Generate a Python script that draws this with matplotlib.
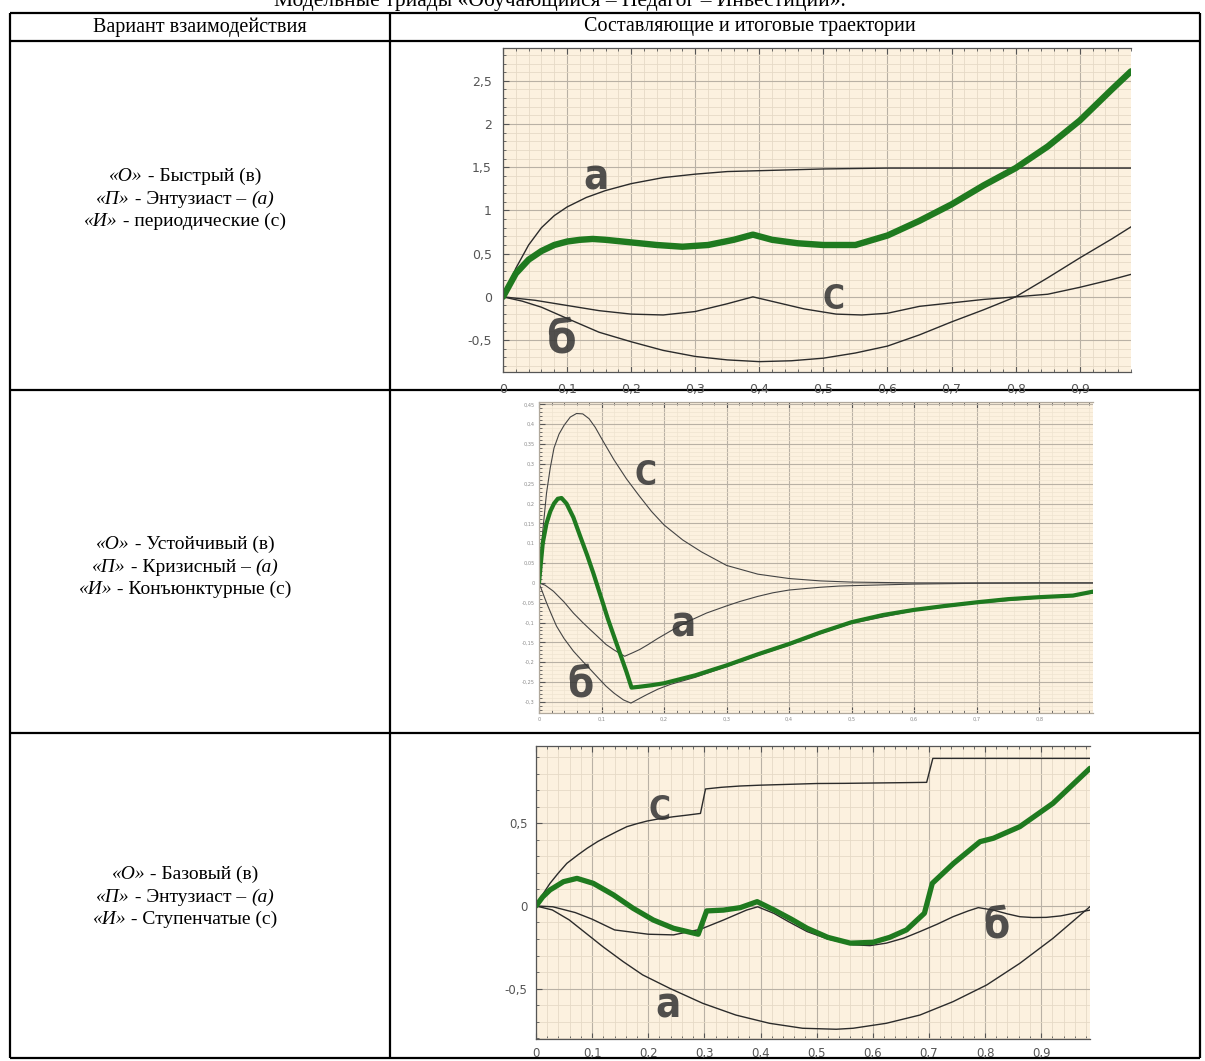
import matplotlib
matplotlib.use("Agg")
import matplotlib.pyplot as plt
from matplotlib.ticker import MultipleLocator, FuncFormatter

# ---- data: row 1 (Быстрый / Энтузиаст / периодические)
t1_a = [0, 0.02, 0.04, 0.06, 0.08, 0.1, 0.13, 0.16, 0.2, 0.25, 0.3, 0.35, 0.4, 0.5, 0.6, 0.7, 0.8, 0.9, 0.98]
a1 = [0, 0.33, 0.6, 0.8, 0.94, 1.04, 1.15, 1.23, 1.31, 1.38, 1.42, 1.45, 1.46, 1.48, 1.49, 1.49, 1.49, 1.49, 1.49]

t1_b = [0, 0.03, 0.06, 0.1, 0.15, 0.2, 0.25, 0.3, 0.35, 0.4, 0.45, 0.5, 0.55, 0.6, 0.65, 0.7, 0.75, 0.8, 0.85, 0.9, 0.95, 0.98]
b1 = [0, -0.05, -0.12, -0.25, -0.41, -0.52, -0.62, -0.69, -0.73, -0.75, -0.74, -0.71, -0.65, -0.57, -0.44, -0.29, -0.15, 0.0, 0.22, 0.45, 0.67, 0.81]

t1_c = [0, 0.05, 0.1, 0.15, 0.2, 0.25, 0.3, 0.35, 0.39, 0.43, 0.47, 0.52, 0.56, 0.6, 0.65, 0.7, 0.75, 0.8, 0.85, 0.9, 0.95, 0.98]
c1 = [0, -0.04, -0.10, -0.16, -0.20, -0.21, -0.17, -0.08, 0.0, -0.07, -0.14, -0.20, -0.21, -0.19, -0.11, -0.07, -0.03, 0.0, 0.03, 0.11, 0.20, 0.26]

t1_s = [0, 0.02, 0.04, 0.06, 0.08, 0.1, 0.12, 0.14, 0.16, 0.2, 0.24, 0.28, 0.32, 0.36, 0.39, 0.42, 0.46, 0.5, 0.55, 0.6, 0.65, 0.7, 0.75, 0.8, 0.85, 0.9, 0.95, 0.98]
s1 = [0, 0.27, 0.43, 0.53, 0.60, 0.64, 0.66, 0.67, 0.66, 0.63, 0.60, 0.58, 0.60, 0.66, 0.72, 0.66, 0.62, 0.60, 0.60, 0.71, 0.88, 1.07, 1.29, 1.49, 1.74, 2.04, 2.40, 2.61]

# ---- data: row 2 (Устойчивый / Кризисный / Конъюнктурные)
t2_a = [0, 0.01, 0.023, 0.04, 0.055, 0.07, 0.082, 0.095, 0.107, 0.12, 0.137, 0.15, 0.161, 0.175, 0.19, 0.214, 0.24, 0.268, 0.3, 0.321, 0.35, 0.374, 0.4, 0.428, 0.45, 0.48, 0.5, 0.55, 0.6, 0.7, 0.8, 0.886]
a2 = [0, -0.006, -0.021, -0.048, -0.076, -0.100, -0.118, -0.137, -0.155, -0.169, -0.185, -0.176, -0.168, -0.155, -0.140, -0.118, -0.096, -0.076, -0.058, -0.047, -0.034, -0.025, -0.018, -0.014, -0.011, -0.008, -0.007, -0.005, -0.003, -0.001, 0.0, 0.0]

t2_b = [0, 0.006, 0.012, 0.02, 0.028, 0.04, 0.055, 0.07, 0.082, 0.095, 0.107, 0.12, 0.135, 0.147, 0.16, 0.172, 0.19, 0.21, 0.25, 0.3, 0.35, 0.4, 0.45, 0.5, 0.6, 0.7, 0.8, 0.886]
b2 = [0, -0.025, -0.05, -0.08, -0.109, -0.14, -0.172, -0.198, -0.218, -0.24, -0.26, -0.278, -0.295, -0.303, -0.292, -0.282, -0.268, -0.256, -0.238, -0.211, -0.183, -0.157, -0.128, -0.102, -0.070, -0.051, -0.038, -0.026]

t2_c = [0, 0.006, 0.012, 0.018, 0.024, 0.032, 0.04, 0.05, 0.06, 0.07, 0.08, 0.09, 0.1, 0.12, 0.14, 0.16, 0.18, 0.2, 0.23, 0.26, 0.3, 0.35, 0.4, 0.45, 0.5, 0.6, 0.7, 0.8, 0.886]
c2 = [0, 0.13, 0.226, 0.29, 0.34, 0.375, 0.397, 0.418, 0.427, 0.426, 0.414, 0.392, 0.364, 0.31, 0.262, 0.22, 0.18, 0.146, 0.108, 0.078, 0.044, 0.022, 0.011, 0.005, 0.002, 0.0, 0.0, 0.0, 0.0]

t2_s = [0, 0.006, 0.012, 0.018, 0.024, 0.03, 0.036, 0.044, 0.055, 0.066, 0.077, 0.087, 0.1, 0.11, 0.12, 0.13, 0.14, 0.148, 0.16, 0.18, 0.2, 0.25, 0.3, 0.35, 0.4, 0.45, 0.5, 0.55, 0.6, 0.65, 0.7, 0.75, 0.8, 0.854, 0.886]
s2 = [0, 0.10, 0.15, 0.18, 0.20, 0.212, 0.214, 0.20, 0.165, 0.117, 0.07, 0.024, -0.04, -0.09, -0.135, -0.18, -0.225, -0.264, -0.262, -0.258, -0.253, -0.233, -0.208, -0.180, -0.154, -0.125, -0.099, -0.081, -0.068, -0.058, -0.049, -0.041, -0.036, -0.032, -0.022]

# ---- data: row 3 (Базовый / Энтузиаст / Ступенчатые)
t3_a = [0, 0.029, 0.059, 0.089, 0.119, 0.155, 0.19, 0.238, 0.297, 0.356, 0.416, 0.475, 0.535, 0.565, 0.624, 0.684, 0.743, 0.803, 0.862, 0.921, 0.987]
a3 = [0, -0.024, -0.084, -0.165, -0.246, -0.336, -0.417, -0.498, -0.589, -0.66, -0.71, -0.74, -0.746, -0.74, -0.71, -0.66, -0.579, -0.478, -0.347, -0.196, -0.004]

t3_b = [0, 0.03, 0.07, 0.1, 0.14, 0.2, 0.245, 0.293, 0.334, 0.375, 0.395, 0.424, 0.45, 0.483, 0.52, 0.565, 0.595, 0.624, 0.655, 0.684, 0.715, 0.743, 0.77, 0.788, 0.815, 0.84, 0.862, 0.885, 0.909, 0.935, 0.957, 0.987]
b3 = [0, -0.005, -0.04, -0.08, -0.145, -0.171, -0.175, -0.141, -0.085, -0.025, -0.005, -0.045, -0.095, -0.155, -0.2, -0.235, -0.24, -0.225, -0.195, -0.155, -0.11, -0.065, -0.03, -0.01, -0.025, -0.048, -0.065, -0.07, -0.069, -0.06, -0.045, -0.025]

t3_c = [0, 0.01, 0.025, 0.04, 0.055, 0.075, 0.091, 0.11, 0.126, 0.145, 0.162, 0.18, 0.198, 0.22, 0.245, 0.27, 0.293, 0.302, 0.33, 0.364, 0.4, 0.45, 0.5, 0.55, 0.6, 0.65, 0.696, 0.707, 0.75, 0.8, 0.9, 0.987]
c3 = [0, 0.06, 0.137, 0.2, 0.258, 0.31, 0.349, 0.39, 0.419, 0.452, 0.48, 0.498, 0.514, 0.528, 0.540, 0.55, 0.56, 0.708, 0.718, 0.726, 0.731, 0.736, 0.741, 0.742, 0.744, 0.746, 0.748, 0.893, 0.893, 0.893, 0.893, 0.893]

t3_s = [0, 0.012, 0.025, 0.049, 0.073, 0.102, 0.138, 0.173, 0.209, 0.245, 0.289, 0.304, 0.334, 0.364, 0.394, 0.424, 0.455, 0.483, 0.52, 0.56, 0.6, 0.63, 0.66, 0.692, 0.706, 0.744, 0.791, 0.815, 0.862, 0.921, 0.987]
s3 = [0, 0.055, 0.097, 0.147, 0.167, 0.137, 0.067, -0.014, -0.085, -0.135, -0.171, -0.03, -0.025, -0.01, 0.026, -0.024, -0.08, -0.135, -0.19, -0.225, -0.22, -0.19, -0.145, -0.044, 0.137, 0.258, 0.389, 0.41, 0.48, 0.621, 0.833]

# ---- table text
title = "Модельные триады «Обучающийся – Педагог – Инвестиции»."
head_left = "Вариант взаимодействия"
head_right = "Составляющие и итоговые траектории"
row_texts = [
    [[("«О»", True), (" - Быстрый (в)", False)],
     [("«П»", True), (" - Энтузиаст – ", False), ("(а)", True)],
     [("«И»", True), (" - периодические (с)", False)]],
    [[("«О»", True), (" - Устойчивый (в)", False)],
     [("«П»", True), (" - Кризисный – ", False), ("(а)", True)],
     [("«И»", True), (" - Конъюнктурные (с)", False)]],
    [[("«О»", True), (" - Базовый (в)", False)],
     [("«П»", True), (" - Энтузиаст – ", False), ("(а)", True)],
     [("«И»", True), (" - Ступенчатые (с)", False)]],
]

W, H = 1205, 1061
fig = plt.figure(figsize=(W / 100, H / 100), dpi=100)
fig.patch.set_facecolor("white")

# full-figure axes in pixel units for the table frame and text
bg = fig.add_axes([0, 0, 1, 1])
bg.set_xlim(0, W)
bg.set_ylim(H, 0)
bg.axis("off")

serif = "Liberation Serif"
lw_tab = 1.6
for y in [13, 41, 390, 733, 1058]:
    bg.plot([10, 1200], [y, y], color="black", lw=lw_tab, solid_capstyle="butt")
for x in [10, 390, 1200]:
    bg.plot([x, x], [13, 1058], color="black", lw=lw_tab, solid_capstyle="butt")

# caption sits above the table and is clipped by the top edge
bg.text(560, 6, title, family=serif, fontsize=15.5, ha="center", va="baseline")
bg.text(200, 27, head_left, family=serif, fontsize=14.5, ha="center", va="center")
bg.text(750, 27, head_right, family=serif, fontsize=14.5, ha="center", va="center")

renderer = fig.canvas.get_renderer()
row_mid = [199, 567, 897]
for mid, lines in zip(row_mid, row_texts):
    for k, segs in enumerate(lines):
        y = mid + (k - 1) * 22.5
        arts = []
        for s, it in segs:
            arts.append(bg.text(0, y, s, family=serif, fontsize=14,
                                fontstyle="italic" if it else "normal",
                                ha="left", va="center"))
        widths = [a.get_window_extent(renderer).width for a in arts]
        x = 185 - sum(widths) / 2
        for a, w in zip(arts, widths):
            a.set_x(x)
            x += w


def comma(v, pos):
    s = "{:g}".format(round(v, 3))
    return s.replace(".", ",")


def px_axes(x0, y0, x1, y1):
    return fig.add_axes([x0 / W, 1 - y1 / H, (x1 - x0) / W, (y1 - y0) / H])


cream = "#FCF1DF"
green = "#1F7A1F"
ink = "#2b2b2b"


def style(ax, xmaj, xmin, ymaj, ymin, lab_size, lab_color, pad):
    ax.set_facecolor(cream)
    ax.set_axisbelow(True)
    ax.xaxis.set_major_locator(MultipleLocator(xmaj))
    ax.xaxis.set_minor_locator(MultipleLocator(xmin))
    ax.yaxis.set_major_locator(MultipleLocator(ymaj))
    ax.yaxis.set_minor_locator(MultipleLocator(ymin))
    ax.xaxis.set_major_formatter(FuncFormatter(comma))
    ax.yaxis.set_major_formatter(FuncFormatter(comma))
    ax.grid(which="major", color="#B9B1A5", lw=0.8)
    ax.grid(which="minor", color="#E6DAC6", lw=0.6)
    ax.tick_params(which="both", direction="in", top=True, right=False,
                   colors="#555555", labelsize=lab_size, labelcolor=lab_color, pad=pad)
    ax.tick_params(which="major", length=4, width=0.8)
    ax.tick_params(which="minor", length=2.5, width=0.6)
    for t in ax.get_xticklabels() + ax.get_yticklabels():
        t.set_family(["Liberation Sans Narrow", "DejaVu Sans"])
    for side in ["left", "bottom", "top"]:
        ax.spines[side].set_color("#555555")
        ax.spines[side].set_linewidth(0.9)
    ax.spines["right"].set_visible(False)


def hand(ax, x, y, s, size):
    ax.text(x, y, s, fontsize=size, fontweight="bold", fontstretch="condensed",
            family="DejaVu Sans", color="#333333", alpha=0.85,
            ha="center", va="center")


# row 1 chart
ax1 = px_axes(503, 48, 1131, 372)
style(ax1, 0.1, 0.02, 0.5, 0.1, 9, "#555555", 8)
ax1.plot(t1_a, a1, color=ink, lw=1.0)
ax1.plot(t1_b, b1, color=ink, lw=1.0)
ax1.plot(t1_c, c1, color=ink, lw=1.0)
ax1.plot(t1_s, s1, color=green, lw=4.6, solid_capstyle="round", solid_joinstyle="round")
ax1.set_xlim(0, 0.98)
ax1.set_ylim(-0.87, 2.88)
hand(ax1, 0.145, 1.38, "а", 30)
hand(ax1, 0.09, -0.5, "б", 34)
hand(ax1, 0.515, -0.03, "С", 24)

# row 2 chart
ax2 = px_axes(539, 402, 1093, 713)
style(ax2, 0.1, 0.02, 0.05, 0.01, 3.6, "#8a8a8a", 3)
ax2.grid(which="minor", color="#EFE3D0", lw=0.5)
for sp in ax2.spines.values():
    sp.set_color("#b0a89c")
ax2.plot(t2_c, c2, color="#444444", lw=0.8)
ax2.plot(t2_a, a2, color="#444444", lw=0.8)
ax2.plot(t2_b, b2, color="#444444", lw=0.8)
ax2.plot(t2_s, s2, color=green, lw=3.0, solid_capstyle="round", solid_joinstyle="round")
ax2.set_xlim(0, 0.886)
ax2.set_ylim(-0.328, 0.456)
hand(ax2, 0.17, 0.27, "С", 24)
hand(ax2, 0.23, -0.105, "а", 30)
hand(ax2, 0.066, -0.255, "б", 30)

# row 3 chart
ax3 = px_axes(536, 746, 1090, 1039)
style(ax3, 0.1, 0.02, 0.5, 0.1, 8.5, "#555555", 6)
ax3.plot(t3_c, c3, color=ink, lw=1.0)
ax3.plot(t3_b, b3, color=ink, lw=1.0)
ax3.plot(t3_a, a3, color=ink, lw=1.0)
ax3.plot(t3_s, s3, color=green, lw=3.8, solid_capstyle="round", solid_joinstyle="round")
ax3.set_xlim(0, 0.987)
ax3.set_ylim(-0.805, 0.968)
hand(ax3, 0.22, 0.58, "С", 24)
hand(ax3, 0.235, -0.6, "а", 30)
hand(ax3, 0.82, -0.12, "б", 30)

fig.savefig("out.png", dpi=100)
